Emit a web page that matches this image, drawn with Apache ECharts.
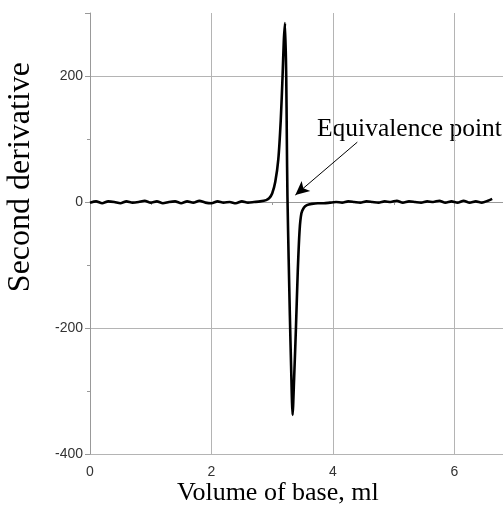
<!DOCTYPE html>
<html>
<head>
<meta charset="utf-8">
<script src="https://cdn.jsdelivr.net/npm/echarts@6/dist/echarts.min.js"></script>
<style>
html,body{margin:0;padding:0;background:#fff;overflow:hidden;}
#chart{width:503px;height:523px;}
</style>
</head>
<body>
<div id="chart"></div>
<script>
// Volume of base (ml)
const volume = [
  0.00,0.10,0.20,0.30,0.40,0.50,0.60,0.70,0.80,0.90,
  1.00,1.10,1.20,1.30,1.40,1.50,1.60,1.70,1.80,1.90,
  2.00,2.10,2.20,2.30,2.40,2.50,2.60,2.70,2.80,2.90,
  2.95,3.00,3.05,3.10,3.14,3.17,3.19,3.21,3.23,3.24,
  3.25,3.27,3.29,3.31,3.335,3.36,3.39,3.42,3.45,3.48,
  3.52,3.57,3.65,3.75,3.85,3.95,4.05,4.15,4.25,4.35,
  4.45,4.55,4.65,4.75,4.85,4.95,5.05,5.15,5.25,5.35,
  5.45,5.55,5.65,5.75,5.85,5.95,6.05,6.15,6.25,6.35,
  6.45,6.55,6.62
];
// Second derivative
const secondDerivative = [
  -1,1,-2,1,0,-2,1,-1,0,2,
  -1,1,-2,0,1,-2,1,-1,2,-1,
  -2,1,-1,0,-2,1,-1,0,1,3,
  6,14,32,68,130,200,255,284,200,100,
  10,-90,-180,-260,-338,-280,-200,-110,-45,-18,
  -9,-5,-3,-2,-2,-1,0,-1,1,0,
  -1,1,0,-1,1,0,2,-1,1,0,
  -1,1,0,2,-1,1,-1,2,-1,1,
  -1,2,5
];
const xTicks = [0, 2, 4, 6];
const yTicks = [-400, -200, 0, 200];
// Arrow annotation: from text to equivalence point
const arrowFrom = [4.40, 95];
const arrowTo = [3.38, 11];
const annotationText = 'Equivalence point';
const xTitle = 'Volume of base, ml';
const yTitle = 'Second derivative';

const chart = echarts.init(document.getElementById('chart'), null, {renderer: 'canvas'});
const seriesData = volume.map((v, i) => [v, secondDerivative[i]]);

const option = {
  animation: false,
  backgroundColor: '#fff',
  grid: {left: 90, top: 13, width: 486, height: 441, containLabel: false, outerBoundsMode: 'none'},
  xAxis: {
    type: 'value', min: 0, max: 8, interval: 2,
    axisLine: {show: true, lineStyle: {color: '#999', width: 1}},
    axisTick: {show: true, length: 5, lineStyle: {color: '#999'}},
    minorTick: {show: true, splitNumber: 2, length: 3, lineStyle: {color: '#999'}},
    splitLine: {show: true, lineStyle: {color: '#b4b4b4', width: 1}},
    axisLabel: {
      margin: 11, color: '#333', fontFamily: 'Liberation Sans', fontSize: 14,
      formatter: v => xTicks.includes(v) ? String(v) : ''
    }
  },
  yAxis: {
    type: 'value', min: -400, max: 300, interval: 200,
    axisLine: {show: true, lineStyle: {color: '#999', width: 1}},
    axisTick: {show: true, length: 5, lineStyle: {color: '#999'}},
    minorTick: {show: true, splitNumber: 2, length: 3, lineStyle: {color: '#999'}},
    splitLine: {show: true, lineStyle: {color: ['#b4b4b4','#b4b4b4','#b4b4b4','#b4b4b4','rgba(0,0,0,0)'], width: 1}},
    axisLabel: {
      margin: 7, color: '#333', fontFamily: 'Liberation Sans', fontSize: 14,
      showMaxLabel: false,
      formatter: v => yTicks.includes(v) ? String(v) : ''
    }
  },
  series: [{
    type: 'line',
    data: seriesData,
    showSymbol: false,
    smooth: 0.25,
    lineStyle: {color: '#000', width: 2.6},
    itemStyle: {color: '#000'},
    markLine: {
      silent: true,
      symbol: ['none', 'arrow'],
      symbolSize: [10, 14],
      label: {show: false},
      lineStyle: {color: '#000', width: 1, type: 'solid'},
      data: [[{coord: arrowFrom}, {coord: arrowTo}]]
    }
  }],
  graphic: [
    {
      type: 'text', left: 317, top: 116,
      style: {text: annotationText, font: '25.5px "Liberation Serif"', fill: '#000'}
    },
    {
      type: 'text', left: 177, top: 480,
      style: {text: xTitle, font: '26px "Liberation Serif"', fill: '#000'}
    },
    {
      type: 'text', rotation: Math.PI / 2, left: 5, top: 62,
      style: {text: yTitle, font: '32px "Liberation Serif"', fill: '#000'}
    }
  ]
};
chart.setOption(option);
</script>
</body>
</html>
